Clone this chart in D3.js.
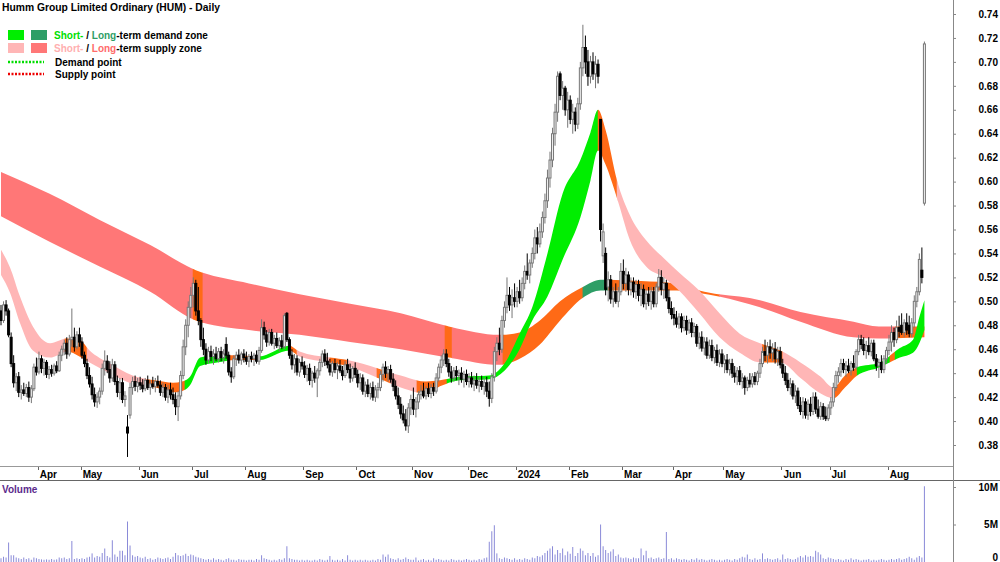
<!DOCTYPE html>
<html>
<head>
<meta charset="utf-8">
<script src="https://cdn.jsdelivr.net/npm/d3@7"></script>
<style>
  body { margin: 0; background: #fff; }
  svg { display: block; font-family: "Liberation Sans", Arial, sans-serif; }
</style>
</head>
<body>
<svg id="chart" width="1000" height="562"></svg>
<script>
// months shown on the date strip and how many trading days each one has on the chart
const monthNames = ['Mar', 'Apr', 'May', 'Jun', 'Jul', 'Aug', 'Sep', 'Oct', 'Nov', 'Dec',
  '2024', 'Feb', 'Mar', 'Apr', 'May', 'Jun', 'Jul', 'Aug']
const monthDays = [15, 17, 23, 21, 21, 23, 21, 22, 22, 19, 21, 21, 20, 20, 23, 19, 23, 15]

const priceTicks = [0.38, 0.40, 0.42, 0.44, 0.46, 0.48, 0.50, 0.52, 0.54, 0.56, 0.58,
  0.60, 0.62, 0.64, 0.66, 0.68, 0.70, 0.72, 0.74]
const volumeTicks = [0, 5, 10]

// daily bars, one row per month
const opens = [
  .492,.484,.497,.492,.470,.448,.432,.437,.424,.426,.423,.428,.420,.427,.445,
  .441,.452,.444,.449,.439,.443,.440,.446,.442,.455,.460,.465,.456,.468,.470,.462,.472,
  .466,.455,.448,.438,.431,.422,.416,.420,.425,.444,.450,.443,.436,.447,.433,.424,.432,.418,.395,.405,.428,.433,.429,
  .432,.430,.427,.434,.428,.431,.429,.433,.430,.424,.428,.420,.426,.422,.418,.412,.421,.438,.462,.480,.495,
  .505,.515,.492,.484,.468,.460,.451,.458,.454,.456,.452,.458,.453,.464,.455,.441,.437,.452,.455,.451,.456,
  .453,.450,.454,.452,.455,.450,.459,.478,.472,.466,.474,.465,.469,.463,.467,.462,.490,.468,.455,.447,.452,.441,.449,
  .446,.439,.444,.434,.440,.436,.442,.449,.456,.450,.447,.441,.448,.443,.446,.442,.438,.447,.443,.436,.444,
  .439,.432,.436,.425,.430,.423,.428,.420,.426,.428,.439,.445,.440,.443,.435,.429,.421,.414,.406,.401,.396,.411,
  .418,.410,.416,.422,.425,.421,.427,.423,.428,.425,.436,.445,.451,.456,.448,.441,.436,.442,.438,.440,.435,.439,
  .433,.436,.431,.434,.430,.433,.429,.432,.425,.419,.437,.458,.465,.460,.484,.495,.505,.497,.503,
  .500,.508,.503,.515,.525,.522,.532,.540,.553,.548,.558,.570,.584,.603,.618,.640,.658,.690,.672,.678,.660,
  .668,.652,.658,.648,.665,.695,.712,.700,.688,.700,.690,.698,.652,.538,.540,.512,.518,.502,.508,.500,.508,
  .525,.515,.522,.510,.516,.508,.514,.505,.510,.498,.506,.500,.508,.498,.512,.520,.510,.515,.503,.494,
  .489,.486,.481,.487,.478,.484,.476,.482,.474,.479,.465,.470,.461,.466,.455,.463,.453,.459,.449,.456,
  .448,.451,.443,.448,.440,.437,.442,.433,.436,.428,.434,.431,.437,.433,.440,.448,.458,.455,.462,.457,.460,.452,.458,
  .447,.440,.434,.428,.431,.421,.425,.413,.408,.416,.405,.414,.408,.420,.410,.404,.412,.404,.402,
  .411,.416,.428,.438,.441,.448,.443,.446,.442,.448,.445,.458,.468,.464,.459,.463,.458,.465,.452,.446,.449,.443,.452,
  .459,.466,.474,.468,.478,.480,.474,.482,.480,.473,.482,.500,.508,.526,.582
]
const highs = [
  .497,.500,.501,.494,.474,.455,.440,.441,.430,.432,.431,.433,.430,.448,.453,
  .458,.455,.452,.451,.446,.447,.448,.450,.458,.463,.468,.470,.472,.494,.478,.475,.478,
  .470,.458,.452,.445,.437,.428,.424,.428,.448,.459,.455,.450,.452,.450,.438,.436,.436,.425,.405,.432,.437,.438,.436,
  .437,.435,.436,.438,.434,.437,.436,.438,.434,.432,.431,.430,.432,.428,.424,.425,.442,.468,.485,.500,.512,
  .520,.518,.512,.486,.478,.465,.462,.463,.460,.462,.461,.462,.460,.470,.458,.445,.455,.458,.460,.458,.460,
  .458,.456,.458,.457,.459,.462,.485,.483,.476,.477,.477,.472,.474,.470,.472,.490,.491,.470,.460,.456,.455,.452,.454,
  .450,.447,.448,.442,.446,.444,.452,.459,.460,.457,.452,.450,.452,.449,.451,.446,.450,.452,.448,.446,.449,
  .443,.440,.439,.433,.435,.432,.433,.430,.432,.442,.448,.450,.446,.447,.440,.434,.428,.420,.413,.410,.415,.422,
  .428,.420,.425,.430,.432,.429,.432,.431,.432,.440,.448,.455,.460,.460,.452,.446,.445,.446,.443,.445,.442,.443,
  .440,.441,.438,.440,.437,.438,.436,.437,.433,.440,.462,.470,.478,.488,.500,.520,.512,.510,.515,
  .512,.518,.520,.530,.540,.535,.545,.560,.562,.565,.575,.590,.610,.625,.645,.665,.692,.692,.684,.680,.675,
  .672,.665,.662,.670,.700,.731,.722,.710,.705,.708,.705,.702,.652,.565,.545,.525,.522,.512,.515,.512,.532,
  .535,.528,.525,.520,.520,.518,.518,.515,.514,.510,.512,.512,.512,.515,.527,.526,.520,.518,.510,.500,
  .495,.492,.490,.490,.488,.488,.485,.486,.482,.481,.474,.475,.470,.470,.468,.468,.462,.464,.460,.460,
  .455,.456,.452,.452,.446,.445,.446,.440,.438,.437,.440,.440,.441,.442,.452,.462,.468,.466,.468,.465,.466,.462,.462,
  .452,.446,.440,.436,.434,.430,.428,.420,.420,.419,.418,.420,.424,.424,.418,.416,.415,.412,.414,
  .420,.432,.442,.445,.452,.452,.450,.452,.450,.455,.460,.472,.472,.470,.467,.470,.468,.468,.456,.452,.455,.455,.462,
  .472,.480,.478,.484,.488,.490,.485,.490,.488,.486,.505,.512,.540,.545,.717
]
const lows = [
  .480,.482,.488,.470,.445,.428,.425,.420,.418,.421,.420,.416,.415,.425,.438,
  .439,.440,.438,.436,.435,.437,.438,.440,.441,.450,.455,.452,.454,.462,.458,.460,.462,
  .452,.445,.435,.428,.418,.412,.411,.414,.422,.438,.440,.432,.433,.430,.420,.418,.415,.412,.370,.402,.422,.425,.424,
  .426,.424,.425,.426,.422,.427,.424,.428,.421,.420,.417,.415,.418,.414,.405,.400,.418,.435,.455,.470,.486,
  .495,.488,.480,.462,.455,.447,.448,.450,.447,.450,.449,.450,.448,.452,.438,.432,.435,.446,.448,.447,.449,
  .447,.445,.449,.446,.448,.447,.457,.468,.462,.463,.463,.460,.461,.458,.460,.460,.466,.452,.443,.440,.438,.437,.443,
  .436,.433,.430,.428,.432,.420,.438,.445,.446,.444,.438,.437,.440,.435,.440,.434,.436,.440,.432,.433,.436,
  .428,.426,.422,.420,.420,.418,.417,.416,.419,.425,.433,.436,.433,.432,.425,.418,.410,.402,.398,.392,.390,.405,
  .405,.403,.410,.418,.419,.418,.420,.419,.421,.423,.433,.440,.446,.445,.437,.432,.433,.434,.430,.432,.428,.430,
  .428,.428,.425,.427,.424,.426,.422,.420,.412,.415,.433,.450,.455,.457,.478,.490,.492,.486,.495,
  .495,.498,.500,.510,.518,.515,.528,.535,.540,.545,.553,.565,.578,.595,.612,.630,.650,.668,.660,.655,.645,
  .648,.640,.642,.644,.660,.688,.690,.680,.682,.685,.678,.682,.550,.532,.505,.500,.498,.495,.498,.495,.505,
  .510,.508,.505,.505,.503,.502,.500,.496,.495,.493,.496,.493,.495,.495,.508,.505,.502,.500,.490,.485,
  .480,.478,.477,.474,.475,.472,.473,.470,.470,.462,.460,.458,.455,.452,.452,.450,.448,.446,.445,.445,
  .440,.440,.438,.436,.432,.430,.430,.427,.422,.425,.428,.428,.430,.430,.436,.445,.450,.448,.452,.450,.448,.446,.444,
  .436,.430,.425,.422,.418,.415,.410,.405,.402,.402,.401,.404,.405,.406,.402,.401,.401,.400,.400,
  .405,.412,.425,.432,.437,.440,.437,.440,.438,.442,.443,.455,.460,.455,.452,.455,.454,.450,.442,.436,.440,.440,.448,
  .455,.458,.462,.465,.470,.472,.470,.472,.470,.470,.478,.495,.505,.515,.580
]
const closes = [
  .484,.497,.492,.472,.448,.432,.437,.424,.426,.423,.428,.420,.427,.445,.441,
  .452,.444,.449,.439,.443,.440,.446,.442,.455,.460,.465,.456,.468,.470,.462,.472,.466,
  .455,.448,.438,.431,.422,.416,.420,.425,.444,.450,.443,.436,.447,.433,.424,.432,.418,.421,.390,.428,.433,.429,.432,
  .430,.427,.434,.428,.431,.429,.433,.430,.424,.428,.420,.426,.422,.418,.412,.421,.438,.462,.480,.495,.505,
  .515,.492,.484,.468,.460,.451,.458,.454,.456,.452,.458,.453,.456,.455,.441,.437,.452,.455,.451,.456,.453,
  .450,.454,.452,.455,.450,.459,.478,.472,.466,.474,.465,.469,.463,.467,.462,.488,.468,.455,.447,.452,.441,.449,.446,
  .439,.444,.434,.440,.436,.442,.449,.456,.450,.447,.441,.448,.443,.446,.442,.438,.447,.443,.436,.444,.439,
  .432,.436,.425,.430,.423,.428,.420,.426,.428,.439,.445,.440,.443,.435,.429,.421,.414,.406,.401,.396,.411,.418,
  .410,.416,.422,.425,.421,.427,.423,.428,.425,.436,.445,.451,.456,.448,.441,.436,.442,.438,.440,.435,.439,.433,
  .436,.431,.434,.430,.433,.429,.432,.425,.419,.437,.458,.465,.460,.484,.495,.505,.497,.503,.500,
  .508,.503,.515,.525,.522,.532,.540,.553,.548,.558,.570,.584,.603,.618,.640,.658,.688,.672,.678,.660,.668,
  .652,.658,.648,.665,.695,.712,.700,.688,.700,.690,.698,.688,.560,.558,.510,.518,.502,.508,.500,.508,.525,
  .515,.522,.510,.516,.508,.514,.505,.510,.498,.506,.500,.508,.498,.512,.520,.510,.515,.503,.494,.489,
  .486,.481,.487,.478,.484,.476,.482,.474,.479,.465,.470,.461,.466,.455,.463,.453,.459,.449,.456,.448,
  .451,.443,.448,.440,.437,.442,.433,.436,.428,.434,.431,.437,.433,.440,.448,.458,.455,.462,.457,.460,.452,.458,.447,
  .440,.434,.428,.431,.421,.425,.413,.408,.416,.405,.414,.408,.420,.410,.404,.412,.404,.402,.411,
  .416,.428,.438,.441,.448,.443,.446,.442,.448,.445,.458,.468,.464,.459,.463,.458,.465,.452,.446,.449,.443,.452,.459,
  .466,.474,.468,.478,.475,.474,.482,.476,.473,.482,.500,.508,.535,.520,.715
]
// volume in millions
const volumes = [
  .5,.7,.6,2.6,.9,.9,.6,.5,.4,.6,.4,.5,.3,.6,.5,
  .4,.35,.3,.35,.3,.4,.3,.35,.6,.5,.6,.4,.5,2.8,.4,.5,.4,
  .5,.4,.6,.7,1.15,.6,.8,.7,1.2,1.8,.8,.6,2.9,1.0,.7,1.5,1.5,.9,5.4,2.2,.9,.7,.8,
  .6,.5,.7,.4,.5,.3,.4,.6,.5,.4,.5,.6,.4,.7,1.2,.9,.8,.9,1.1,.8,1.0,
  .9,.7,.6,.5,.4,.3,.4,.3,.5,.3,.4,.3,.2,.4,.5,.3,.3,.2,.4,.3,.3,
  .2,.3,.3,.2,.4,.3,.9,.5,.4,.3,.2,.3,.2,.4,.3,.5,2.1,.5,.4,.3,.3,.2,.3,
  .2,.3,.2,.2,.3,.2,.4,.3,.2,.3,.8,.3,.2,.3,.2,.4,.2,.9,.3,.2,.3,
  .2,.3,.2,.3,.2,.2,.3,.2,.4,.3,1.0,.7,1.0,.5,.4,.3,.5,.3,.4,.6,.4,.3,
  .3,.6,.2,.3,.4,.2,.3,.2,.5,.3,.4,.3,.2,.3,.2,.4,.3,.2,.3,.2,.3,.4,
  .3,.2,.3,.2,.4,.3,.5,.6,2.7,4.1,4.9,1.15,.5,.4,.6,.5,.4,.3,.5,
  .3,.4,.3,.5,.4,.3,.6,.5,.8,.7,.9,1.2,1.5,1.8,2.1,1.0,1.6,1.2,1.8,.9,1.4,
  1.1,2.0,.8,1.2,1.8,1.5,.9,1.2,.8,1.2,.7,.9,5.0,2.1,1.6,1.2,1.4,1.7,.8,1.0,.6,
  .5,.6,.5,.4,.6,.5,.5,1.8,.9,1.5,.5,.6,.4,.5,.6,.4,.5,4.0,.4,.5,
  .3,.5,.4,.3,.4,.3,.2,.4,.3,.5,.3,.4,.3,.2,.3,.4,.3,.2,.3,.2,
  .3,.4,.3,.2,.4,.3,.5,.7,.6,1.0,.4,.3,.5,.3,.4,1.15,.4,.5,.4,.3,.4,.5,.3,
  1.0,.4,.5,.4,.3,.4,.6,.8,.6,.9,.7,.8,.7,1.5,1.3,1.0,.5,.4,.6,
  .5,.4,.3,.4,.3,.2,.4,.3,.5,.3,.4,.3,.2,.3,.3,.4,.2,.3,.2,.3,.4,.3,.2,
  .3,.4,.3,.4,.5,.3,.4,.5,.7,.5,.3,.6,.8,.6,10.1
]

// long-term zone edges read at some bar positions
const longBandIdx = [0, 19, 39, 59, 77, 98, 118, 138, 158, 177, 197, 205, 213, 221, 230, 237, 253, 267, 276, 300, 316, 337, 347, 365]
const longBandHi = [.608, .590, .568, .547, .526, .515, .506, .498, .490, .479, .472, .474, .484, .500, .512, .518, .517, .515, .509, .501, .491, .483, .479, .479]
const longBandLo = [.571, .550, .529, .508, .484, .476, .472, .466, .460, .453, .447, .452, .464, .484, .503, .509, .509, .509, .507, .495, .483, .470, .469, .470]
// short-term zone edges
const shortBandIdx = [0, 3.6, 7.5, 12.6, 19.4, 26, 31, 35, 43, 52, 61, 68, 71.5, 74.7, 78.7, 85.4, 92.5, 102, 114, 118, 130, 137, 149, 158, 168, 173.5, 181.4, 193, 199, 205, 210, 216, 222, 229, 233, 236, 239, 243.5, 248.6, 255, 262, 268, 276, 284, 292, 300, 308, 316, 324, 329, 333.6, 338.4, 347.4, 355.3, 360.5, 363, 365]
const shortBandHi = [.543, .528, .504, .479, .465, .469, .468, .459, .448, .438, .434, .432, .433, .437, .453, .455, .455, .454, .463, .458, .453, .451, .444, .438, .433, .434, .437, .438, .448, .473, .495, .540, .590, .618, .641, .660, .643, .601, .572, .551, .536, .524, .509, .490, .473, .465, .459, .449, .437, .428, .438, .445, .449, .461, .468, .487, .501]
const shortBandLo = [.522, .507, .482, .459, .453, .458, .454, .449, .440, .431, .428, .424, .425, .430, .446, .449, .451, .451, .459, .454, .449, .446, .436, .428, .423, .429, .434, .435, .442, .460, .484, .504, .535, .570, .601, .626, .614, .586, .551, .529, .520, .509, .490, .470, .457, .449, .449, .436, .423, .419, .428, .438, .445, .453, .457, .465, .476]

// zone state by bar range: s = supply, d = demand, n = price inside the zone
const longZones = [[0, 75.9, 's'], [75.9, 79.8, 'n'], [79.8, 175.5, 's'], [175.5, 178.3, 'n'],
  [178.3, 198.4, 's'], [198.4, 230, 'n'], [230, 240, 'd'], [240, 284, 'n'], [284, 353.5, 's'], [353.5, 366, 'n']]
const shortZones = [[0, 25.3, 's'], [25.3, 34, 'n'], [34, 57.7, 's'], [57.7, 72.7, 'n'], [72.7, 89.7, 'd'],
  [89.7, 102.4, 'n'], [102.4, 114.2, 'd'], [114.2, 117, 'n'], [117, 130, 's'], [130, 136.8, 'n'],
  [136.8, 148.6, 's'], [148.6, 153.8, 'n'], [153.8, 164.4, 's'], [164.4, 176.3, 'n'], [176.3, 236, 'd'],
  [236, 243.5, 'n'], [243.5, 301, 's'], [301, 309, 'n'], [309, 329.6, 's'], [329.6, 338.4, 'n'],
  [338.4, 351.4, 'd'], [351.4, 353.4, 'n'], [353.4, 366, 'd']]

const longColors = { s: '#ff7777', d: '#2e9e66', n: '#ff6a16' }
const shortColors = { s: '#ffb6b6', d: '#00ee00', n: '#ff6a16' }

const bars = opens.map((o, i) => ({ i: i, o: o, h: highs[i], l: lows[i], c: closes[i], v: volumes[i] }))

const svg = d3.select('#chart')
const defs = svg.append('defs')

const plotRight = 953
const priceBottom = 466

var x = d3.scaleLinear().domain([-0.4, 376.3]).range([0, plotRight])
var y = d3.scaleLinear().domain([0.38, 0.74]).range([445, 14])
var yVol = d3.scaleLinear().domain([0, 10]).range([562, 487])

defs.append('clipPath').attr('id', 'price-clip')
  .append('rect').attr('x', 0).attr('y', 0).attr('width', plotRight).attr('height', priceBottom)

const pricePanel = svg.append('g').attr('clip-path', 'url(#price-clip)')

// zones
function drawBand(idx, hi, lo, zones, colors, name) {
  const pts = idx.map((d, k) => ({ i: d, hi: hi[k], lo: lo[k] }))
  const area = d3.area()
    .x(d => x(d.i))
    .y0(d => y(d.lo))
    .y1(d => y(d.hi))
    .curve(d3.curveMonotoneX)
  zones.forEach((z, n) => {
    const id = name + '-zone-' + n
    const x0 = x(z[0])
    const x1 = x(z[1])
    defs.append('clipPath').attr('id', id)
      .append('rect')
      .attr('x', x0 - 0.3)
      .attr('y', 0)
      .attr('width', x1 - x0 + 0.6)
      .attr('height', priceBottom)
    pricePanel.append('path')
      .datum(pts)
      .attr('d', area)
      .attr('fill', colors[z[2]])
      .attr('clip-path', `url(#${id})`)
  })
}
drawBand(longBandIdx, longBandHi, longBandLo, longZones, longColors, 'long')
drawBand(shortBandIdx, shortBandHi, shortBandLo, shortZones, shortColors, 'short')

// candles
const candles = pricePanel.append('g')
  .selectAll('g')
  .data(bars)
  .enter()
  .append('g')

candles.append('line')
  .attr('x1', d => x(d.i))
  .attr('x2', d => x(d.i))
  .attr('y1', d => y(d.h))
  .attr('y2', d => y(d.l))
  .attr('stroke', d => d.c >= d.o ? '#777' : '#000')
  .attr('stroke-width', 1)

candles.append('rect')
  .attr('x', d => x(d.i) - 1)
  .attr('width', 2)
  .attr('y', d => y(Math.max(d.o, d.c)))
  .attr('height', d => Math.max(1, Math.abs(y(d.o) - y(d.c))))
  .attr('fill', d => d.c >= d.o ? '#f2f2f2' : '#000')
  .attr('stroke', d => d.c >= d.o ? '#777' : '#000')
  .attr('stroke-width', 1)

// volume
svg.append('g')
  .selectAll('line')
  .data(bars)
  .enter()
  .append('line')
  .attr('x1', d => x(d.i))
  .attr('x2', d => x(d.i))
  .attr('y1', yVol(0))
  .attr('y2', d => yVol(d.v))
  .attr('stroke', '#8a8ad8')
  .attr('stroke-width', 1)

// frame lines
svg.append('line').attr('x1', 0).attr('x2', plotRight).attr('y1', priceBottom + 0.5).attr('y2', priceBottom + 0.5)
  .attr('stroke', '#999')
svg.append('line').attr('x1', 0).attr('x2', 1000).attr('y1', 480.5).attr('y2', 480.5)
  .attr('stroke', '#666')
svg.append('line').attr('x1', plotRight + 0.5).attr('x2', plotRight + 0.5).attr('y1', 0).attr('y2', 562)
  .attr('stroke', '#888')

// price axis
var yAxis = g =>
  g
    .attr('transform', `translate(${plotRight},0)`)
    .call(d3.axisRight(y).tickValues(priceTicks).tickFormat(d3.format('.2f')).tickSize(3).tickPadding(0))
    .call(g => g.select('.domain').remove())
    .call(g => g.selectAll('line').attr('stroke', '#888'))
    .call(g => g.selectAll('text').attr('x', 45).attr('text-anchor', 'end'))
    .attr('font-family', '"Liberation Sans", Arial, sans-serif')
    .attr('font-size', 10)
    .attr('font-weight', 'bold')
    .attr('color', '#000')
svg.append('g').call(yAxis)

var volAxis = g =>
  g
    .attr('transform', `translate(${plotRight},0)`)
    .call(d3.axisRight(yVol).tickValues(volumeTicks).tickFormat(d => d === 0 ? '0' : d + 'M').tickSize(3).tickPadding(0))
    .call(g => g.select('.domain').remove())
    .call(g => g.selectAll('line').attr('stroke', '#888'))
    .call(g => g.selectAll('text').attr('x', 45).attr('text-anchor', 'end'))
    // the bottom label sits on the edge of the picture: keep it just inside
    .call(g => g.selectAll('text').filter(d => d === 0).attr('dy', '-0.15em'))
    .attr('font-family', '"Liberation Sans", Arial, sans-serif')
    .attr('font-size', 10)
    .attr('font-weight', 'bold')
    .attr('color', '#000')
svg.append('g').call(volAxis)

// date strip
let start = 0
const monthStarts = monthNames.map((m, k) => {
  const s = start
  start += monthDays[k]
  return { name: m, idx: s }
}).slice(1)

const dates = svg.append('g')
dates.selectAll('line')
  .data(monthStarts)
  .enter()
  .append('line')
  .attr('x1', d => Math.round(x(d.idx - 0.5)) + 0.5)
  .attr('x2', d => Math.round(x(d.idx - 0.5)) + 0.5)
  .attr('y1', priceBottom + 1)
  .attr('y2', priceBottom + 4)
  .attr('stroke', '#666')
dates.selectAll('text')
  .data(monthStarts)
  .enter()
  .append('text')
  .attr('x', d => x(d.idx - 0.5) + 2)
  .attr('y', 478)
  .attr('font-size', 10)
  .attr('font-weight', 'bold')
  .attr('fill', '#000')
  .text(d => d.name)

// titles and legend
svg.append('text').attr('x', 2).attr('y', 11)
  .attr('font-size', 10.3).attr('font-weight', 'bold').attr('fill', '#000')
  .text('Humm Group Limited Ordinary (HUM) - Daily')

svg.append('text').attr('x', 2).attr('y', 493)
  .attr('font-size', 10).attr('font-weight', 'bold').attr('fill', '#5b2a8c')
  .text('Volume')

const legend = svg.append('g').attr('font-size', 10).attr('font-weight', 'bold')
legend.append('rect').attr('x', 8).attr('y', 30).attr('width', 16).attr('height', 10).attr('fill', shortColors.d)
legend.append('rect').attr('x', 31).attr('y', 30).attr('width', 16).attr('height', 10).attr('fill', longColors.d)
legend.append('rect').attr('x', 8).attr('y', 43).attr('width', 16).attr('height', 10).attr('fill', shortColors.s)
legend.append('rect').attr('x', 31).attr('y', 43).attr('width', 16).attr('height', 10).attr('fill', longColors.s)

const row1 = legend.append('text').attr('x', 54).attr('y', 39)
row1.append('tspan').attr('fill', '#00e000').text('Short-')
row1.append('tspan').attr('fill', '#000').text(' / ')
row1.append('tspan').attr('fill', '#2e9e66').text('Long')
row1.append('tspan').attr('fill', '#000').text('-term demand zone')

const row2 = legend.append('text').attr('x', 54).attr('y', 52)
row2.append('tspan').attr('fill', '#ffb0b0').text('Short-')
row2.append('tspan').attr('fill', '#000').text(' / ')
row2.append('tspan').attr('fill', '#ff6b6b').text('Long')
row2.append('tspan').attr('fill', '#000').text('-term supply zone')

legend.append('line').attr('x1', 8).attr('x2', 44).attr('y1', 62).attr('y2', 62)
  .attr('stroke', '#00dd00').attr('stroke-width', 2.5).attr('stroke-dasharray', '2,1.5')
legend.append('line').attr('x1', 8).attr('x2', 44).attr('y1', 74).attr('y2', 74)
  .attr('stroke', '#ee0000').attr('stroke-width', 2.5).attr('stroke-dasharray', '2,1.5')
legend.append('text').attr('x', 55).attr('y', 66).attr('fill', '#000').text('Demand point')
legend.append('text').attr('x', 55).attr('y', 78).attr('fill', '#000').text('Supply point')
</script>
</body>
</html>
